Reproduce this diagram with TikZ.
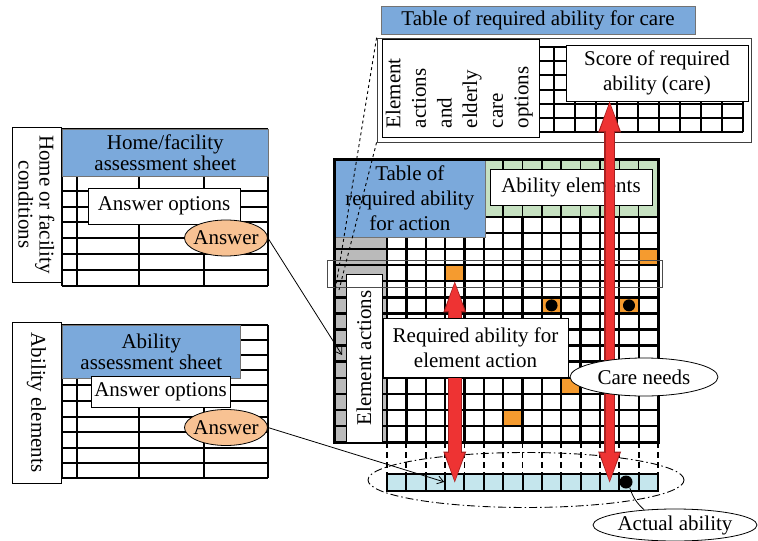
\documentclass[tikz,border=0pt]{standalone}
\usepackage{fontspec}
\setmainfont{Liberation Serif}
\usetikzlibrary{arrows.meta,positioning,calc,shapes.geometric}
\definecolor{hdBlue}{HTML}{7BA9DB}
\definecolor{abGreen}{HTML}{C6E1C1}
\definecolor{colGrey}{HTML}{BABABA}
\definecolor{cellOrange}{HTML}{F59B2F}
\definecolor{ansOrange}{HTML}{F8C293}
\definecolor{stripCyan}{HTML}{C5E6ED}
\definecolor{arrRed}{HTML}{EE3333}
\definecolor{arrDark}{HTML}{A82020}
\newcommand{\figfont}{\fontsize{21}{21}\selectfont}
\newcommand{\wideleading}{\fontsize{21}{25}\selectfont}

\begin{document}
\begin{tikzpicture}[x=1pt,y=-1pt,font=\figfont,
  box/.style={draw,fill=white,line width=0.8pt,align=center,inner sep=1pt},
  hdr/.style={draw=black!55,fill=hdBlue,line width=0.6pt,align=center,inner sep=1pt},
  ans/.style={ellipse,draw,fill=ansOrange,line width=0.8pt,inner xsep=-9pt,inner ysep=0pt,
    minimum width=83pt,minimum height=36pt},
  bub/.style={ellipse,draw,fill=white,line width=0.8pt,inner xsep=-6pt,inner ysep=0pt},
  tbl/.style={line width=2pt},
  grd/.style={line width=2.3pt},
  ocell/.style={fill=cellOrange,minimum width=19.36pt,minimum height=16.07pt,inner sep=0pt},
  scell/.style={draw,fill=stripCyan,line width=2pt,minimum width=19.36pt,minimum height=17pt,inner sep=0pt},
  redout/.style={draw=arrDark,line width=#1,
    {Triangle[length=31pt,width=23pt,line width=0pt]}-{Triangle[length=31pt,width=23pt,line width=0pt]}},
  redin/.style={draw=arrRed,line width=#1,shorten <=1.6pt,shorten >=1.6pt,
    {Triangle[length=28pt,width=19.5pt,line width=0pt]}-{Triangle[length=28pt,width=19.5pt,line width=0pt]}},
  link/.style={line width=0.8pt,-{Straight Barb[length=6pt,width=8pt]}}]
  \useasboundingbox (0,0) rectangle (758,541);

  % home / facility assessment sheet
  \foreach \yy in {129,176,191,207,222,238,254,270,286}
    \draw[tbl] (62,\yy) -- (268,\yy);
  \foreach \xx in {62,77,139,204,268}
    \draw[tbl] (\xx,129) -- (\xx,286);
  \node[hdr,anchor=north west,minimum width=206pt,minimum height=47pt] (homehd) at (62,129) {Home/facility\\assessment sheet};
  \node[box,rotate=-90,minimum width=155pt,minimum height=49pt] (homecond) at (36.5,204.5) {Home or facility\\conditions};
  \node[box,minimum width=152pt,minimum height=36pt] (homeopt) at (164,206) {Answer options};
  \node[ans] (homeans) at (226,238) {Answer};

  % ability assessment sheet
  \foreach \yy in {325,340,355,370,385,401,417,432,448,463,478}
    \draw[tbl] (62,\yy) -- (268,\yy);
  \foreach \xx in {62,77,139,204,268}
    \draw[tbl] (\xx,325) -- (\xx,478);
  \node[hdr,anchor=north west,minimum width=178pt,minimum height=53pt] (abhd) at (62,325) {Ability\\assessment sheet};
  \node[box,rotate=-90,minimum width=161pt,minimum height=49pt] (abel) at (36.5,402.5) {Ability elements};
  \node[box,minimum width=139pt,minimum height=31pt] (abopt) at (160.5,391.5) {Answer options};
  \node[ans] (abans) at (226,427.5) {Answer};

  % table of required ability for care
  \node[draw=black!75,line width=0.8pt,minimum width=374pt,minimum height=104pt] (careframe) at (564,90) {};
  \foreach \yy in {47,61.2,75.4,89.6,103.8,118,132.2}
    \draw[tbl] (533,\yy) -- (743,\yy);
  \foreach \k in {0,...,10}
    \draw[tbl] (533+21*\k,47) -- (533+21*\k,132.2);
  \node[hdr,minimum width=314pt,minimum height=28pt] (carehd) at (538,20) {Table of required ability for care};
  \node[box,minimum width=157pt,minimum height=98pt] (careopt) at (460.5,88) {};
  \node[rotate=90,align=left,anchor=north west,inner sep=0pt,font=\fontsize{21}{25.6}\selectfont]
    (careopttxt) at ([xshift=4pt,yshift=9pt]careopt.south west) {Element\\actions\\and\\elderly\\care\\options};
  \node[box,minimum width=182pt,minimum height=56pt,font=\wideleading] (score) at (657,73) {Score of required\\ability (care)};

  % table of required ability for action
  \fill[abGreen] (485,159) rectangle (658,217);
  \fill[colGrey] (334,237) rectangle (387,442);
  \foreach \c/\r in {3/3,13/2,8/5,12/5,9/10,6/12}
    \node[ocell] (o\c-\r) at (387+19.36*\c+9.68,217+16.07*\r+8.035) {};
  \foreach \r in {0,...,14}
    \draw[grd] (334,217+16.07*\r) -- (658,217+16.07*\r);
  \foreach \c in {0,...,14}
    \draw[grd] (387+19.36*\c,217) -- (387+19.36*\c,442);
  \foreach \c in {6,...,13}
    \draw[line width=1.5pt] (387+19.36*\c,159) -- (387+19.36*\c,217);
  \foreach \n in {o8-5,o12-5}
    \fill (\n) circle (6pt);
  \draw[densely dotted,line width=0.8pt] (581,346) rectangle (600,362);
  \node[hdr,anchor=north west,minimum width=151pt,minimum height=78pt,font=\wideleading] (acthd) at (334,159) {Table of\\required ability\\for action};
  \draw[line width=3pt] (334,159) rectangle (658,442);
  \node[box,minimum width=162pt,minimum height=36pt] (abilhd) at (571,187) {Ability elements};
  \node[box,rotate=90,minimum width=168pt,minimum height=36pt] (elact) at (364,358) {Element actions};
  \draw[black!70,line width=1pt] (327,260) rectangle (662,287);

  % projection of the care table
  \coordinate (gtop) at (335,292);
  \coordinate (gbot) at (339,290);
  \draw[dashed,line width=0.9pt] (careframe.north west) -- (gtop);
  \draw[dashed,line width=0.9pt] (careframe.south west) -- (gbot);

  % actual ability strip
  \foreach \c in {0,...,14}
    \draw[line width=1.8pt,dash pattern=on 6pt off 4pt] (387+19.36*\c,442) -- (387+19.36*\c,474);
  \node[ellipse,draw,line width=0.9pt,dash pattern=on 8pt off 3pt on 1.5pt off 3pt,
    minimum width=316pt,minimum height=55pt] (ring) at (526,480) {};
  \foreach \c in {0,...,13}
    \node[scell] (s\c) at (387+19.36*\c+9.68,482.5) {};
  \node[circle,fill,inner sep=0pt,minimum size=13pt] (adot) at (626,482) {};

  % red arrows
  \draw[redout=14.5pt] (o3-3.south) -- (s3.center);
  \draw[redin=11.5pt] (o3-3.south) -- (s3.center);
  \draw[redout=11pt] (s11 |- score.south) -- (s11.center);
  \draw[redin=8pt] (s11 |- score.south) -- (s11.center);

  \node[box,minimum width=185pt,minimum height=59pt,font=\wideleading] (reqbox) at (475.5,347.5) {Required ability for\\element action};
  \node[bub,minimum width=148pt,minimum height=38pt] (needs) at (644,377) {Care needs};
  \node[bub,minimum width=164pt,minimum height=32pt] (actual) at (675,525) {Actual ability};

  % answers feed the tables
  \coordinate (gcol) at (342,355);
  \draw[link] (homeans.east) -- (gcol);
  \draw[link,shorten >=2pt] (abans.east) -- (s2.east);
  \draw[line width=0.8pt] (adot) to[bend right=15] (actual);
\end{tikzpicture}
\end{document}
